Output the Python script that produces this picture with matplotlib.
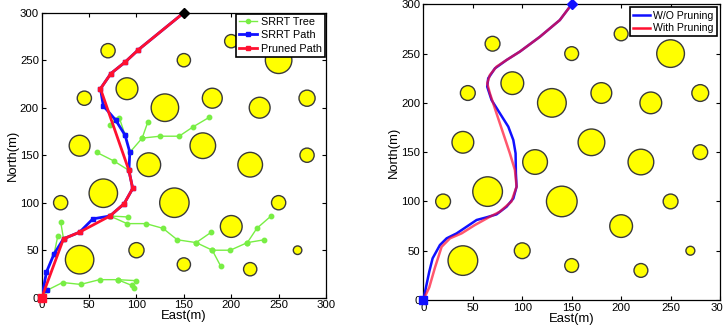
import matplotlib
matplotlib.use("Agg")
import matplotlib.pyplot as plt
from matplotlib.patches import Circle
from matplotlib.lines import Line2D

plt.rcParams['font.family'] = ['Liberation Sans', 'DejaVu Sans']

# Obstacles (same map in both panels)
obs_x = [40, 20, 65, 40, 45, 70, 90, 100, 113, 130, 140, 150, 150, 170, 180, 200, 200, 220, 220, 230, 250, 250, 270, 280, 280]
obs_y = [40, 100, 110, 160, 210, 260, 220, 50, 140, 200, 100, 35, 250, 160, 210, 75, 270, 30, 140, 200, 250, 100, 50, 210, 150]
obs_r = [15, 7.5, 15, 11, 7.5, 7.5, 11.5, 8, 12.5, 14.5, 15.5, 7, 7, 13.5, 10.5, 11.5, 7, 7, 13, 11, 14, 7.5, 4.5, 8.5, 7.5]

# Left panel: SRRT tree branches (polylines)
tree_branches = [
    [(0, 0), (6, 8), (22, 16), (41, 14), (61, 19), (80, 19), (99, 18)],
    [(80, 19), (95, 13), (97, 10)],
    [(13, 46), (17, 65)],
    [(23, 62), (20, 80)],
    [(72, 86), (91, 85)],
    [(72, 86), (90, 78), (110, 78), (128, 73), (143, 61), (163, 58), (179, 69)],
    [(163, 58), (180, 50), (189, 33)],
    [(180, 50), (199, 50), (217, 58), (227, 73), (242, 86)],
    [(217, 58), (235, 61)],
    [(92, 134), (76, 144), (58, 153)],
    [(93, 153), (106, 168), (125, 170), (145, 170), (160, 180), (177, 190)],
    [(106, 168), (112, 185)],
    [(78, 187), (72, 182)],
    [(78, 187), (82, 189), (88, 171)],
]

srrt_x = [0, 5, 13, 23, 40, 54, 72, 87, 96, 92, 93, 88, 78, 65, 62, 73, 88, 102, 150]
srrt_y = [0, 27, 46, 62, 69, 83, 86, 99, 115, 134, 153, 171, 187, 202, 220, 236, 248, 261, 300]
srrt_extra_x = [6]
srrt_extra_y = [8]

pruned_x = [0, 23, 40, 72, 87, 96, 92, 62, 73, 88, 102, 150]
pruned_y = [0, 62, 69, 86, 99, 115, 134, 220, 236, 248, 261, 300]

# Right panel: smoothed trajectories
wo_x = [0, 6, 9.4, 16.8, 23.6, 33.7, 43.8, 53.9, 64, 74, 84.2, 91, 94.3, 93.6, 93.3, 91, 85.9, 77.4, 69, 64.6, 65.6, 72.4, 84.2, 97.6, 117.8, 138, 150]
wo_y = [0, 28.7, 42.3, 55.8, 62.6, 67.6, 74.4, 81.2, 83.9, 86.9, 94.7, 103, 115, 128.5, 148.8, 162.3, 175.9, 189.4, 202.9, 216.4, 224.9, 235, 243.5, 252, 267, 284, 300]
with_x = [0, 6, 11.8, 18.5, 27, 38.7, 52, 67.3, 77.4, 89, 94.3, 92.6, 87.5, 80.8, 74, 67.3, 64.6, 67.3, 74, 84.2, 97.6, 117.8, 138, 150]
with_y = [0, 12.8, 33, 54, 62.6, 67.6, 76, 84.5, 89.6, 99.8, 115, 131.9, 148.8, 169, 189.4, 209.7, 219.8, 228.3, 236.7, 243.5, 252, 267, 284, 300]

ticks = [0, 50, 100, 150, 200, 250, 300]

fig = plt.figure(figsize=(7.23, 3.29), dpi=100)
axL = fig.add_axes([0.0577, 0.0951, 0.3932, 0.8663])
axR = fig.add_axes([0.5855, 0.0881, 0.4104, 0.8988])

green = '#78ee44'
blue = '#1010ff'
red = '#ff1030'


def setup(ax):
    for x, y, r in zip(obs_x, obs_y, obs_r):
        ax.add_patch(Circle((x, y), r, facecolor='#ffff00', edgecolor='#3a3a3a', linewidth=1.0, zorder=2))
    ax.set_xlim(0, 300)
    ax.set_ylim(0, 300)
    ax.set_xticks(ticks)
    ax.set_yticks(ticks)
    ax.tick_params(direction='in', top=True, right=True, labelsize=8.2, length=3, width=0.8, pad=2)
    for s in ax.spines.values():
        s.set_linewidth(0.9)
    ax.set_xlabel('East(m)', fontsize=9.4, labelpad=0)
    ax.set_ylabel('North(m)', fontsize=9.4, labelpad=1)


setup(axL)
for br in tree_branches:
    bx = [p[0] for p in br]
    by = [p[1] for p in br]
    axL.plot(bx, by, color=green, lw=1.0, marker='o', ms=3.2, mfc=green, mec=green, zorder=3)
axL.plot(srrt_x, srrt_y, color=blue, lw=2.0, marker='s', ms=3.5, zorder=4)
axL.plot(srrt_extra_x, srrt_extra_y, color=blue, lw=0, marker='s', ms=3.5, zorder=4)
axL.plot(pruned_x, pruned_y, color=red, lw=2.0, marker='s', ms=3.5, zorder=5)
axL.plot([pruned_x[0]], [pruned_y[0]], color=red, marker='s', ms=6, lw=0, zorder=6, clip_on=False)
axL.plot([pruned_x[-1]], [pruned_y[-1]], color='black', marker='D', ms=5, lw=0, zorder=6, clip_on=False)
hL = [Line2D([], [], color=green, lw=1.0, marker='o', ms=3),
      Line2D([], [], color=blue, lw=2.0, marker='s', ms=3.5),
      Line2D([], [], color=red, lw=2.0, marker='s', ms=3.5)]
legL = axL.legend(hL, ['SRRT Tree', 'SRRT Path', 'Pruned Path'], loc='upper right', fontsize=7.8,
                  fancybox=False, framealpha=1, edgecolor='black', borderpad=0.3, labelspacing=0.3,
                  handlelength=1.7, handletextpad=0.3, borderaxespad=0.1)
legL.get_frame().set_linewidth(1.2)
legL.set_zorder(10)

setup(axR)
axR.plot(wo_x, wo_y, color=blue, lw=1.8, zorder=4)
axR.plot(with_x, with_y, color=red, lw=1.8, alpha=0.7, zorder=5)
axR.plot([wo_x[0]], [wo_y[0]], color=blue, marker='s', ms=6, lw=0, zorder=6, clip_on=False)
axR.plot([wo_x[-1]], [wo_y[-1]], color=blue, marker='D', ms=5, lw=0, zorder=6, clip_on=False)
hR = [Line2D([], [], color=blue, lw=1.8), Line2D([], [], color=red, lw=1.8)]
legR = axR.legend(hR, ['W/O Pruning', 'With Pruning'], loc='upper right', fontsize=7.6,
                  fancybox=False, framealpha=1, edgecolor='black', borderpad=0.3, labelspacing=0.25,
                  handlelength=1.6, handletextpad=0.3, borderaxespad=0.3)
legR.get_frame().set_linewidth(1.2)
legR.set_zorder(10)

fig.savefig('out.png', dpi=100)
